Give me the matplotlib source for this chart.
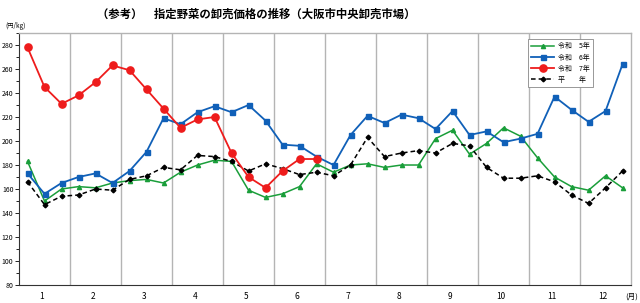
import matplotlib
matplotlib.use("Agg")
import matplotlib.pyplot as plt
from matplotlib.ticker import MultipleLocator
import numpy as np

plt.rcParams['font.family'] = ['Noto Sans CJK JP', 'DejaVu Sans']

months = ['1', '2', '3', '4', '5', '6', '7', '8', '9', '10', '11', '12']
series_names = ['令和　5年', '令和　6年', '令和　7年', '平　　年']

r5 = [183, 150, 160, 162, 161, 165, 167, 168, 165, 174, 180, 184,
      183, 159, 153, 156, 162, 181, 174, 180, 181, 178, 180, 180,
      202, 209, 189, 198, 211, 204, 186, 170, 162, 159, 171, 161]
r6 = [173, 156, 165, 170, 173, 165, 175, 191, 219, 214, 224, 229,
      224, 230, 217, 197, 196, 187, 180, 205, 221, 215, 222, 219,
      210, 225, 205, 208, 199, 202, 206, 237, 226, 216, 225, 264]
r7 = [278, 245, 231, 238, 249, 263, 259, 243, 227, 211, 218, 220,
      190, 170, 161, 175, 185, 185]
avg = [166, 147, 154, 155, 160, 159, 168, 171, 178, 176, 188, 187,
       183, 175, 181, 177, 172, 174, 171, 180, 203, 187, 190, 192,
       190, 198, 196, 178, 169, 169, 171, 166, 155, 148, 161, 175]

fig = plt.figure(figsize=(6.4, 3.03), dpi=100)
ax = fig.add_axes([0.0297, 0.0594, 0.9563, 0.8316])

ax.plot(np.arange(len(r5)), r5, color='#1a9e3a', lw=1.1, marker='^', ms=3.0, label=series_names[0], zorder=3)
ax.plot(np.arange(len(r6)), r6, color='#1060b8', lw=1.3, marker='s', ms=3.6, label=series_names[1], zorder=4)
ax.plot(np.arange(len(r7)), r7, color='#ee1c1c', lw=1.3, marker='o', ms=5.2, label=series_names[2], zorder=5)
ax.plot(np.arange(len(avg)), avg, color='black', lw=1.1, ls=(0, (3, 2)), marker='D', ms=2.4,
        label=series_names[3], zorder=3)

ax.set_xlim(-0.5, 35.5)
ax.set_ylim(80, 290)
for k in range(1, 12):
    ax.axvline(3 * k - 0.5, color='#b4b4b4', lw=1.0, zorder=1)

ax.set_xticks([3 * k + 0.85 for k in range(12)])
ax.set_xticklabels(months, fontsize=6)
ax.tick_params(axis='x', length=0, pad=5)
ax.yaxis.set_minor_locator(MultipleLocator(10))
ax.set_yticks(np.arange(80, 281, 20))
ax.tick_params(axis='y', which='major', length=3, labelsize=5, pad=1, width=0.6)
ax.tick_params(axis='y', which='minor', length=2, width=0.6)

for s in ['top', 'right']:
    ax.spines[s].set_color('#b4b4b4')
    ax.spines[s].set_linewidth(1.0)
for s in ['left', 'bottom']:
    ax.spines[s].set_color('#333333')
    ax.spines[s].set_linewidth(0.8)

fig.text(0.40, 0.953, '（参考）　指定野菜の卸売価格の推移（大阪市中央卸売市場）',
         ha='center', va='center', fontsize=8.2, fontweight='bold')
fig.text(0.008, 0.915, '(円/kg)', ha='left', va='center', fontsize=4.5)
fig.text(0.997, 0.02, '(月)', ha='right', va='center', fontsize=5.5)

leg = ax.legend(loc='upper left', bbox_to_anchor=(0.826, 0.99), fontsize=5,
                frameon=True, fancybox=False, edgecolor='#888888', framealpha=1,
                handlelength=3.2, labelspacing=0.45, borderpad=0.5, handletextpad=0.6)
leg.get_frame().set_linewidth(0.6)

fig.savefig('out.png', dpi=100)
